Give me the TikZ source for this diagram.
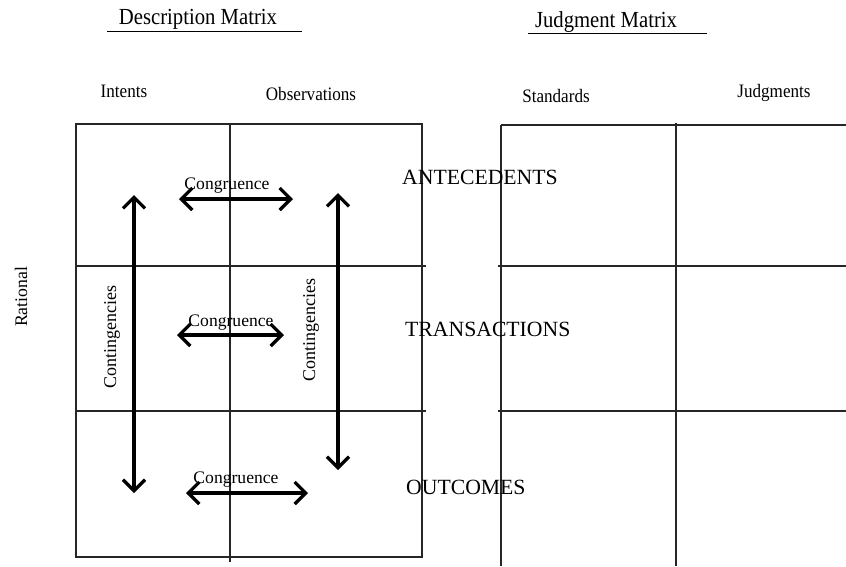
\documentclass[tikz,border=0pt]{standalone}
\usepackage{fontspec}
\setmainfont{Liberation Serif}
\newfontfamily\narrowserif[FakeStretch=0.9]{Liberation Serif}
\usetikzlibrary{arrows.meta}
\begin{document}
\begin{tikzpicture}[x=1pt,y=-1pt,
  grid/.style={line width=1.1pt,black!85},
  thickarrow/.style={line width=3.3pt,{Straight Barb[length=11pt,width=22pt,line width=3.3pt]}-{Straight Barb[length=11pt,width=22pt,line width=3.3pt]}},
  title/.style={font=\narrowserif\fontsize{23}{26}\selectfont,inner sep=0pt},
  head/.style={font=\narrowserif\fontsize{19}{22}\selectfont,inner sep=0pt},
  rowlab/.style={font=\fontsize{21.7}{24}\selectfont,inner sep=0pt,anchor=west},
  cong/.style={font=\fontsize{17.6}{20}\selectfont,inner sep=0pt},
  cont/.style={font=\fontsize{18}{20}\selectfont,inner sep=0pt,rotate=90}]
\useasboundingbox[fill=white] (0,0) rectangle (846,566);
% titles
\node[title] (dm) at (198,19) {Description Matrix};
\draw[line width=1pt] (107,31) -- (302,31);
\node[title] (jm) at (606,22) {Judgment Matrix};
\draw[line width=1pt] (528,33) -- (707,33);
% column headings
\node[head] (intents) at (124,91) {Intents};
\node[head] (obs) at (311,94) {Observations};
\node[head] (std) at (556,96) {Standards};
\node[head] (jdg) at (774,93) {Judgments};
% left matrix
\draw[grid] (76,124) rectangle (422,557);
\draw[grid] (230,124) -- (230,562);
\draw[grid] (76,266) -- (426,266);
\draw[grid] (76,411) -- (426,411);
% right matrix
\draw[grid] (501,125) -- (846,125);
\draw[grid] (501,125) -- (501,566);
\draw[grid] (676,123) -- (676,566);
\draw[grid] (498,266) -- (846,266);
\draw[grid] (498,411) -- (846,411);
% row labels
\node[rowlab] (ante) at (402,177) {ANTECEDENTS};
\node[rowlab] (trans) at (405,329) {TRANSACTIONS};
\node[rowlab] (out) at (406,487) {OUTCOMES};
% rational
\node[font=\fontsize{17.7}{20}\selectfont,inner sep=0pt,rotate=90] (rat) at (21,297) {Rational};
% congruence labels
\node[cong] (c1) at (227,186) {Congruence};
\node[cong] (c2) at (231,323) {Congruence};
\node[cong] (c3) at (236,480) {Congruence};
% contingencies labels
\node[cont] (k1) at (112,337) {Contingencies};
\node[cont] (k2) at (311,330) {Contingencies};
% arrow endpoints
\coordinate (a1s) at (179,199); \coordinate (a1e) at (293,199);
\coordinate (a2s) at (177,335); \coordinate (a2e) at (284,335);
\coordinate (a3s) at (186,493); \coordinate (a3e) at (308,493);
\coordinate (v1s) at (134,195); \coordinate (v1e) at (134,493);
\coordinate (v2s) at (338,193); \coordinate (v2e) at (338,470);
\draw[thickarrow] (a1s) -- (a1e);
\draw[thickarrow] (a2s) -- (a2e);
\draw[thickarrow] (a3s) -- (a3e);
\draw[thickarrow] (v1s) -- (v1e);
\draw[thickarrow] (v2s) -- (v2e);
\end{tikzpicture}
\end{document}
